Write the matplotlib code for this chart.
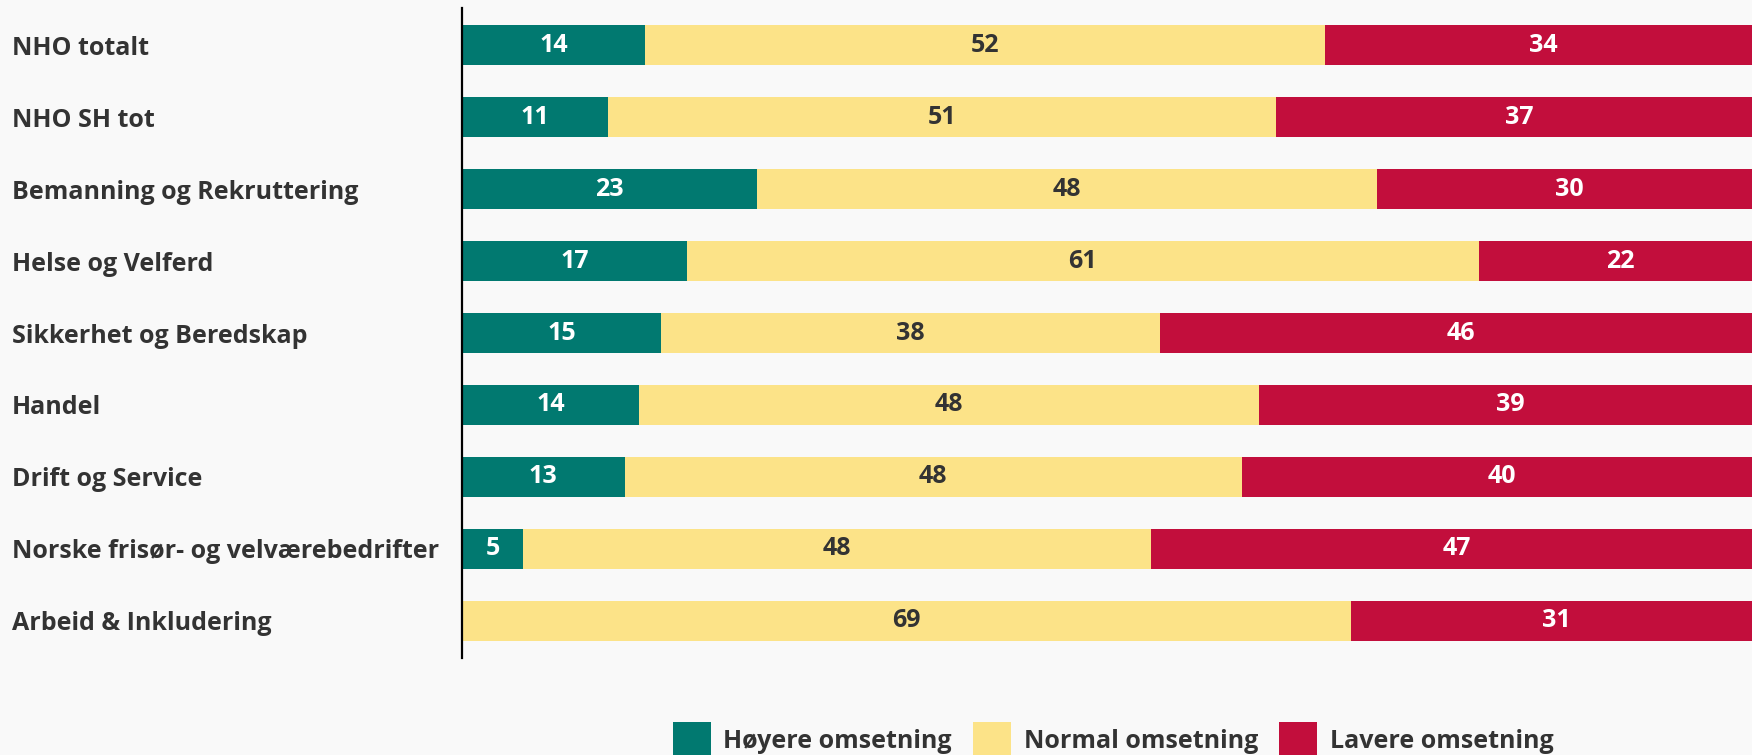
import numpy as np
import matplotlib
matplotlib.use("Agg")
import matplotlib.pyplot as plt
from matplotlib.patches import Rectangle

categories = ["NHO totalt", "NHO SH tot", "Bemanning og Rekruttering", "Helse og Velferd",
              "Sikkerhet og Beredskap", "Handel", "Drift og Service",
              "Norske frisør- og velværebedrifter", "Arbeid & Inkludering"]
hoyere = [14.1, 11.2, 22.7, 17.3, 15.3, 13.6, 12.5, 4.7, 0.0]
normal = [52.3, 51.4, 47.7, 60.9, 38.4, 47.7, 47.5, 48.3, 68.4]
lavere = [33.6, 37.4, 29.6, 21.8, 46.3, 38.7, 40.0, 47.0, 31.6]
hoyere_labels = ["14", "11", "23", "17", "15", "14", "13", "5", ""]
normal_labels = ["52", "51", "48", "61", "38", "48", "48", "48", "69"]
lavere_labels = ["34", "37", "30", "22", "46", "39", "40", "47", "31"]
series_names = ["Høyere omsetning", "Normal omsetning", "Lavere omsetning"]

colors = ["#017970", "#FCE388", "#C20E3C"]
label_colors = ["white", "#333333", "white"]
text_color = "#333333"
bg = "#F9F9F9"
FONT = "Open Sans"
FS = 18

W, H = 1752, 755
fig = plt.figure(figsize=(W / 100, H / 100), dpi=100, facecolor=bg)
ax = fig.add_axes([462 / W, 97 / H, 1300 / W, 650 / H])
ax.set_facecolor(bg)

y = np.arange(len(categories))
left = np.zeros(len(categories))
series = [hoyere, normal, lavere]
labels = [hoyere_labels, normal_labels, lavere_labels]
for vals, col, lab, lc in zip(series, colors, labels, label_colors):
    vals = np.array(vals)
    bars = ax.barh(y, vals, left=left, height=40 / 72, color=col, linewidth=0)
    ax.bar_label(bars, labels=lab, label_type="center", color=lc,
                 fontsize=FS, fontweight="bold", fontfamily=FONT)
    left = left + vals

ax.set_xlim(0, 100)
ax.set_ylim(len(categories) - 1 + 0.514, -0.514)
ax.set_yticks(y)
ax.set_yticklabels(categories, fontsize=FS, fontweight="bold", fontfamily=FONT, color=text_color)
for t in ax.get_yticklabels():
    t.set_ha("left")
ax.tick_params(axis="y", length=0, pad=(462 - 12) * 0.72)
ax.set_xticks([])
for s in ["top", "right", "bottom"]:
    ax.spines[s].set_visible(False)
ax.spines["left"].set_linewidth(1.6)
ax.spines["left"].set_color("black")

# legend (manual)
sq_x = [673, 973, 1279]
tx_x = [723, 1024, 1330]
for sx, tx, col, name in zip(sq_x, tx_x, colors, series_names):
    fig.patches.append(Rectangle((sx / W, (H - 755) / H), 38 / W, 33 / H,
                                 transform=fig.transFigure, color=col, linewidth=0))
    fig.text(tx / W, 7 / H, name, fontsize=FS, fontweight="bold", fontfamily=FONT,
             color=text_color, ha="left", va="baseline")

fig.savefig("out.png", dpi=100, facecolor=bg)
